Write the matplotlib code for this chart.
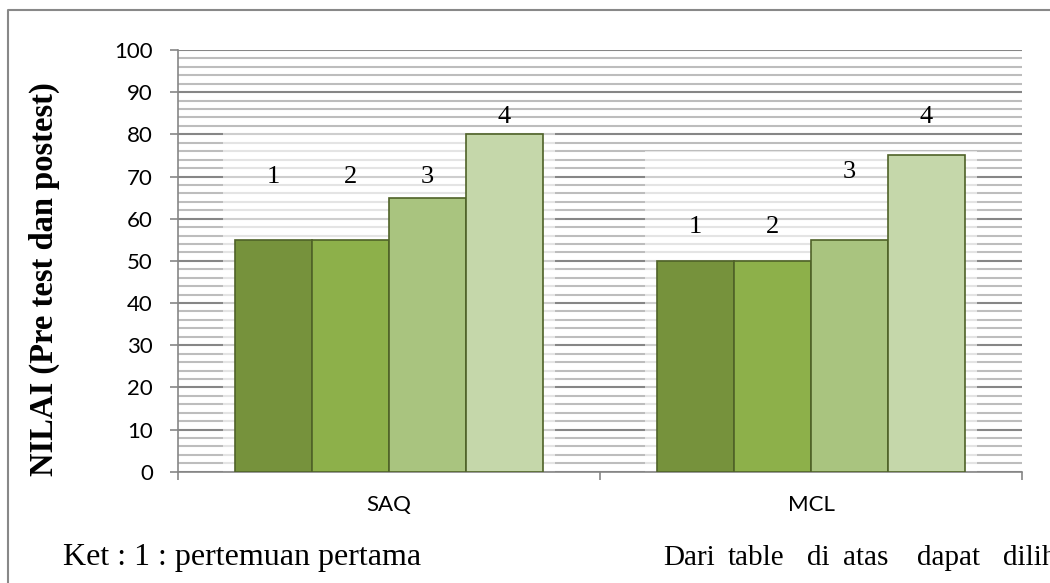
import numpy as np
import matplotlib
matplotlib.use("Agg")
import matplotlib.pyplot as plt
from matplotlib.lines import Line2D

# data
categories = ["SAQ", "MCL"]
series_names = ["1", "2", "3", "4"]
saq_values = [55, 55, 65, 80]
mcl_values = [50, 50, 55, 75]
# heights where the number labels sit
saq_label_y = [70, 70, 70, 84]
mcl_label_y = [58, 58, 71, 84]

bar_colors = ["#76923c", "#8db04a", "#a9c47f", "#c5d7aa"]
edge_color = "#4f6228"
serif = ["Liberation Serif", "DejaVu Serif"]
sans = ["Lato", "DejaVu Sans"]

fig = plt.figure(figsize=(10.5, 5.83), dpi=100)
ax = fig.add_axes([0.1695, 0.1909, 0.8038, 0.7233])

values = np.array([saq_values, mcl_values])
labels_y = np.array([saq_label_y, mcl_label_y])
x = np.arange(len(categories))
w = 0.1825
offsets = (np.arange(len(series_names)) - 1.5) * w

# soft white glow behind each group
ax.bar(x, values.max(axis=1) + 1, width=4 * w + 0.055, color="white",
       alpha=0.6, zorder=2, linewidth=0)

for i, name in enumerate(series_names):
    ax.bar(x + offsets[i], values[:, i], width=w, color=bar_colors[i],
           edgecolor=edge_color, linewidth=1.2, zorder=3)
    for j in range(len(categories)):
        ax.text(x[j] + offsets[i], labels_y[j, i], name, ha="center",
                va="center", fontsize=19, family=serif, zorder=4)

# axes and grid
ax.set_xlim(-0.5, 1.5)
ax.set_ylim(0, 100)
ax.set_yticks(np.arange(0, 101, 10))
ax.set_yticks(np.arange(0, 101, 2), minor=True)
ax.grid(which="minor", axis="y", color="#bdbdbd", linewidth=1.5, zorder=0)
ax.grid(which="major", axis="y", color="#868686", linewidth=1.5, zorder=1)
ax.set_axisbelow(True)

ax.set_xticks(x)
ax.set_xticklabels(categories)
ax.set_xticks([-0.5, 0.5, 1.5], minor=True)
ax.tick_params(axis="x", which="major", length=0, pad=17, labelsize=16)
ax.tick_params(axis="x", which="minor", length=6, color="#868686", width=1.2)
ax.tick_params(axis="y", which="major", length=6, color="#868686", width=1.2,
               labelsize=16, pad=12)
ax.tick_params(axis="y", which="minor", length=0)
for lab in ax.get_yticklabels() + ax.get_xticklabels():
    lab.set_family(sans)

for s in ["top", "right"]:
    ax.spines[s].set_visible(False)
for s in ["left", "bottom"]:
    ax.spines[s].set_color("#868686")
    ax.spines[s].set_linewidth(1.2)

fig.text(44 / 1050, 1 - 279 / 583, "NILAI (Pre test dan postest)",
         rotation=90, ha="center", va="center", fontsize=23.5,
         fontweight="bold", family=serif)

# outer frame (top and left edges visible)
fig.add_artist(Line2D([8 / 1050, 8 / 1050, 1.0], [0.0, 1 - 10 / 583, 1 - 10 / 583],
                      transform=fig.transFigure, color="#888888", linewidth=1.5))

# text below the chart
fig.text(63 / 1050, 1 - 558 / 583, "Ket : 1 : pertemuan pertama",
         ha="left", va="center", fontsize=23, family=serif)
words = ["Dari", "table", "di", "atas", "dapat", "dilih"]
word_x = [663, 728, 807, 843, 917, 1003]
for wd, wx in zip(words, word_x):
    fig.text(wx / 1050, 1 - 558 / 583, wd, ha="left", va="center",
             fontsize=21, family=serif)

fig.savefig("out.png", dpi=100)
